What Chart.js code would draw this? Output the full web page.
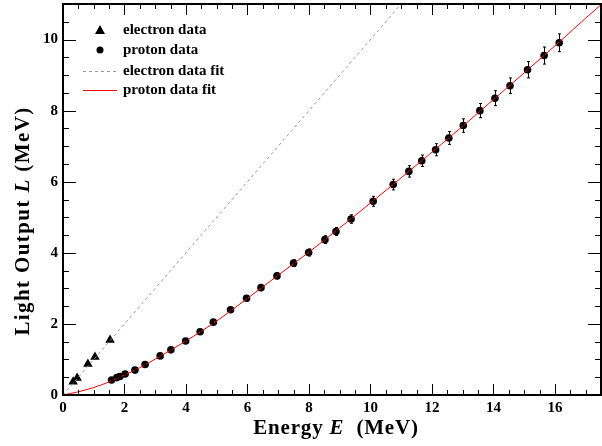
<!DOCTYPE html>
<html>
<head>
<meta charset="utf-8">
<script src="https://cdn.jsdelivr.net/npm/chart.js@4/dist/chart.umd.min.js"></script>
<style>
  html, body { margin:0; padding:0; background:#fff; }
  #wrap { width:602px; height:446px; position:relative; }
</style>
</head>
<body>
<div id="wrap"><canvas id="c" width="602" height="446"></canvas></div>
<script>
// values
const electronE = [0.33, 0.46, 0.81, 1.04, 1.53];
const electronL = [0.37, 0.48, 0.87, 1.07, 1.55];

const protonE = [1.58, 1.75, 1.85, 2.02, 2.34, 2.67, 3.16, 3.51, 3.99, 4.46,
                 4.89, 5.45, 5.97, 6.44, 6.96, 7.50, 7.99, 8.52, 8.88, 9.37,
                 10.09, 10.74, 11.25, 11.67, 12.12, 12.55, 13.02, 13.56, 14.05, 14.54,
                 15.11, 15.65, 16.14];
const protonL = [0.42, 0.49, 0.52, 0.59, 0.70, 0.86, 1.10, 1.27, 1.52, 1.78,
                 2.05, 2.40, 2.72, 3.02, 3.35, 3.71, 4.01, 4.37, 4.60, 4.95,
                 5.45, 5.92, 6.29, 6.59, 6.90, 7.23, 7.58, 8.00, 8.35, 8.70,
                 9.15, 9.55, 9.91];
const protonErr = [0.02, 0.02, 0.02, 0.02, 0.02, 0.03, 0.03, 0.04, 0.04, 0.05,
                   0.05, 0.06, 0.07, 0.08, 0.08, 0.09, 0.10, 0.11, 0.11, 0.12,
                   0.14, 0.15, 0.16, 0.16, 0.17, 0.18, 0.19, 0.20, 0.21, 0.22,
                   0.23, 0.24, 0.25];

const electronFitE = [0, 11.0];
const electronFitL = [0, 11.0];

const protonFitE = [0, 0.5, 1, 1.5, 2, 2.5, 3, 3.5, 4, 5, 6, 7, 8, 9, 10, 11, 12, 13, 14, 15, 16, 17, 17.5];
const protonFitL = [0, 0.09, 0.21, 0.37, 0.56, 0.77, 1.01, 1.26, 1.52, 2.08, 2.72, 3.37, 4.02, 4.70, 5.40, 6.11, 6.83, 7.56, 8.31, 9.06, 9.82, 10.60, 10.98];

const xTicks = [0, 2, 4, 6, 8, 10, 12, 14, 16];
const yTicks = [0, 2, 4, 6, 8, 10];
const legendLabels = ['electron data', 'proton data', 'electron data fit', 'proton data fit'];

const SERIF = '"Liberation Serif", "Times New Roman", serif';
const pts = (xs, ys) => xs.map((x, i) => ({x, y: ys[i]}));

// error bars, frame and inside ticks (ROOT style)
const decor = {
  id: 'decor',
  afterDatasetsDraw(chart){
    const {ctx, scales: {x, y}} = chart;
    ctx.save();
    ctx.strokeStyle = '#000';
    ctx.lineWidth = 1;
    protonE.forEach((e, i) => {
      const px = Math.round(x.getPixelForValue(e)) + 0.5;
      const y1 = y.getPixelForValue(protonL[i] - protonErr[i]);
      const y2 = y.getPixelForValue(protonL[i] + protonErr[i]);
      ctx.beginPath();
      ctx.moveTo(px, y1); ctx.lineTo(px, y2);
      ctx.moveTo(px - 1.5, y1); ctx.lineTo(px + 1.5, y1);
      ctx.moveTo(px - 1.5, y2); ctx.lineTo(px + 1.5, y2);
      ctx.stroke();
    });
    ctx.restore();
  },
  afterDraw(chart){
    const {ctx, chartArea: a, scales: {x, y}} = chart;
    ctx.save();
    ctx.strokeStyle = '#000';
    ctx.lineWidth = 1;
    ctx.beginPath();
    for(let v = 0; v <= 17.5 + 1e-9; v += 0.5){
      const px = Math.round(x.getPixelForValue(v)) + 0.5;
      const len = (v % 2 === 0) ? 11 : 5;
      ctx.moveTo(px, a.bottom); ctx.lineTo(px, a.bottom - len);
      ctx.moveTo(px, a.top); ctx.lineTo(px, a.top + len);
    }
    for(let v = 0; v <= 11 + 1e-9; v += 0.5){
      const py = Math.round(y.getPixelForValue(v)) + 0.5;
      const len = (v % 2 === 0) ? 13 : 6;
      ctx.moveTo(a.left, py); ctx.lineTo(a.left + len, py);
      ctx.moveTo(a.right, py); ctx.lineTo(a.right - len, py);
    }
    ctx.stroke();
    ctx.lineWidth = 2;
    ctx.strokeRect(a.left, a.top, a.right - a.left, a.bottom - a.top);

    // axis titles with italic symbol
    const drawParts = (parts, cx, cy, spacing) => {
      ctx.letterSpacing = spacing + 'px';
      const fonts = parts.map(p => (p[1] ? 'italic bold 21px ' : 'bold 21px ') + SERIF);
      let total = 0;
      const widths = parts.map((p, i) => { ctx.font = fonts[i]; const w = ctx.measureText(p[0]).width; total += w; return w; });
      let cur = cx - total / 2;
      ctx.textBaseline = 'middle';
      ctx.textAlign = 'left';
      parts.forEach((p, i) => { ctx.font = fonts[i]; ctx.fillText(p[0], cur, cy); cur += widths[i]; });
      ctx.letterSpacing = '0px';
    };
    ctx.fillStyle = '#000';
    drawParts([['Energy ', false], ['E', true], ['  (MeV)', false]], 336, 429, 0.8);
    ctx.save();
    ctx.translate(24, 221);
    ctx.rotate(-Math.PI / 2);
    drawParts([['Light Output ', false], ['L', true], [' (MeV)', false]], 0, 0, 1.4);
    ctx.restore();

    // legend
    const lx = 123, rows = [30, 50, 71, 90];
    ctx.font = 'bold 15px ' + SERIF;
    ctx.textBaseline = 'middle';
    ctx.textAlign = 'left';
    legendLabels.forEach((t, i) => ctx.fillText(t, lx, rows[i]));
    ctx.beginPath();
    ctx.moveTo(100, rows[0] - 5); ctx.lineTo(105, rows[0] + 4); ctx.lineTo(95, rows[0] + 4); ctx.closePath();
    ctx.fill();
    ctx.beginPath(); ctx.arc(100, rows[1], 3.5, 0, Math.PI * 2); ctx.fill();
    ctx.lineWidth = 1;
    ctx.strokeStyle = '#999';
    ctx.setLineDash([3, 3]);
    ctx.beginPath(); ctx.moveTo(83, rows[2] + 0.5); ctx.lineTo(116, rows[2] + 0.5); ctx.stroke();
    ctx.setLineDash([]);
    ctx.strokeStyle = '#f00';
    ctx.beginPath(); ctx.moveTo(83, rows[3] + 0.5); ctx.lineTo(117, rows[3] + 0.5); ctx.stroke();
    ctx.restore();
  }
};

new Chart(document.getElementById('c'), {
  type: 'scatter',
  data: {
    datasets: [
      { label: legendLabels[2], data: pts(electronFitE, electronFitL), showLine: true,
        borderColor: '#999', borderWidth: 1, borderDash: [3, 3], pointRadius: 0 },
      { label: legendLabels[3], data: pts(protonFitE, protonFitL), showLine: true,
        borderColor: '#ff0000', borderWidth: 1, pointRadius: 0, cubicInterpolationMode: 'monotone' },
      { label: legendLabels[0], data: pts(electronE, electronL), pointStyle: 'triangle',
        pointRadius: 5.5, backgroundColor: '#000', borderColor: '#000', borderWidth: 0 },
      { label: legendLabels[1], data: pts(protonE, protonL), pointStyle: 'circle',
        pointRadius: 3.8, backgroundColor: '#000', borderColor: '#000', borderWidth: 0 }
    ]
  },
  options: {
    responsive: false,
    animation: false,
    events: [],
    layout: { autoPadding: false, padding: { top: 4, right: 1, left: 0, bottom: 0 } },
    plugins: { legend: { display: false }, tooltip: { enabled: false } },
    scales: {
      x: {
        type: 'linear', min: 0, max: 17.5,
        afterFit: s => { s.height = 51; s.paddingLeft = 0; s.paddingRight = 0; },
        afterBuildTicks: s => { s.ticks = xTicks.map(v => ({value: v})); },
        grid: { display: false, drawTicks: false },
        border: { display: false },
        ticks: { padding: 4, color: '#000', font: { family: SERIF, size: 15, weight: 'bold' }, maxRotation: 0 }
      },
      y: {
        type: 'linear', min: 0, max: 11,
        afterFit: s => { s.width = 63; s.paddingTop = 0; s.paddingBottom = 0; },
        afterBuildTicks: s => { s.ticks = yTicks.map(v => ({value: v})); },
        grid: { display: false, drawTicks: false },
        border: { display: false },
        ticks: { padding: 5, color: '#000', font: { family: SERIF, size: 15, weight: 'bold' } }
      }
    }
  },
  plugins: [decor]
});
</script>
</body>
</html>
